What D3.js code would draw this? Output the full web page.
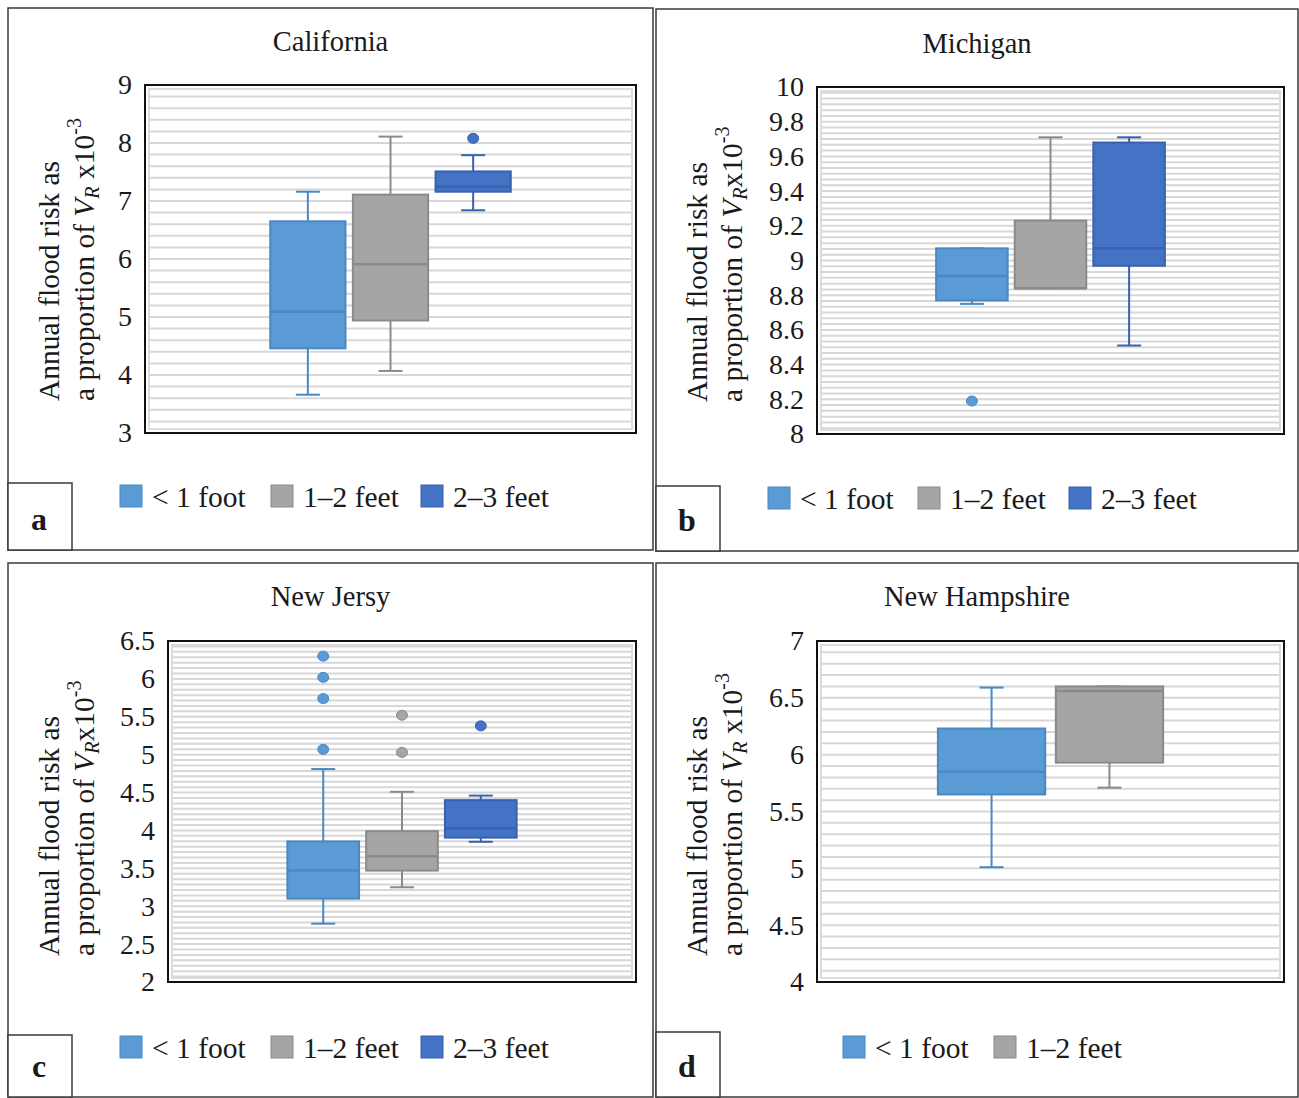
<!DOCTYPE html>
<html>
<head>
<meta charset="utf-8">
<script src="https://cdn.jsdelivr.net/npm/d3@7"></script>
<style>
  body { margin: 0; background: #fff; }
  text { font-family: "Liberation Serif", "Times New Roman", serif; fill: #1a1a1a; }
</style>
</head>
<body>
<svg id="chart"></svg>
<script>
// series shared by all four panels
const seriesNames = ["< 1 foot", "1–2 feet", "2–3 feet"];
const seriesFill = ["#5b9bd5", "#a5a5a5", "#4472c4"];
const seriesStroke = ["#4a88c2", "#8a8a8a", "#3862b0"];

// five-number summaries (x10^-3)
const californiaBoxes = [
  { min: 3.66, q1: 4.46, median: 5.09, q3: 6.65, max: 7.16, outliers: [] },
  { min: 4.07, q1: 4.94, median: 5.91, q3: 7.11, max: 8.11, outliers: [] },
  { min: 6.84, q1: 7.16, median: 7.25, q3: 7.51, max: 7.79, outliers: [8.08] }
];
const michiganBoxes = [
  { min: 8.75, q1: 8.77, median: 8.91, q3: 9.07, max: 9.07, outliers: [8.19] },
  { min: 8.84, q1: 8.84, median: 8.84, q3: 9.23, max: 9.71, outliers: [] },
  { min: 8.51, q1: 8.97, median: 9.07, q3: 9.68, max: 9.71, outliers: [] }
];
const newJerseyBoxes = [
  { min: 2.77, q1: 3.10, median: 3.47, q3: 3.855, max: 4.81, outliers: [5.07, 5.74, 6.02, 6.30] },
  { min: 3.25, q1: 3.47, median: 3.66, q3: 3.99, max: 4.51, outliers: [5.03, 5.52] },
  { min: 3.85, q1: 3.905, median: 4.03, q3: 4.40, max: 4.46, outliers: [5.38] }
];
const newHampshireBoxes = [
  { min: 5.01, q1: 5.65, median: 5.85, q3: 6.23, max: 6.59, outliers: [] },
  { min: 5.71, q1: 5.93, median: 6.56, q3: 6.60, max: 6.60, outliers: [] }
];

// y tick labels
const californiaTicks = [3, 4, 5, 6, 7, 8, 9];
const michiganTicks = [8, 8.2, 8.4, 8.6, 8.8, 9, 9.2, 9.4, 9.6, 9.8, 10];
const newJerseyTicks = [2, 2.5, 3, 3.5, 4, 4.5, 5, 5.5, 6, 6.5];
const newHampshireTicks = [4, 4.5, 5, 5.5, 6, 6.5, 7];

const width = 1299;
const height = 1098;

const svg = d3.select("#chart")
  .attr("width", width)
  .attr("height", height);

const panels = [
  { title: "California", letter: "a", boxes: californiaBoxes, ticks: californiaTicks, gridStep: 0.2, gap: true,
    frame: { x: 8, y: 8, w: 645, h: 542 }, plot: { x: 145, y: 85, w: 491, h: 348 },
    legendX: [120, 271, 421], legendY: 485, titleY: 51, letterBox: { y: 483, h: 67 } },
  { title: "Michigan", letter: "b", boxes: michiganBoxes, ticks: michiganTicks, gridStep: 0.2 / 6, gap: false,
    frame: { x: 656, y: 9, w: 642, h: 542 }, plot: { x: 817, y: 87, w: 467, h: 347 },
    legendX: [768, 918, 1069], legendY: 487, titleY: 53, letterBox: { y: 486, h: 65 } },
  { title: "New Jersy", letter: "c", boxes: newJerseyBoxes, ticks: newJerseyTicks, gridStep: 0.5 / 7, gap: false,
    frame: { x: 8, y: 563, w: 645, h: 534 }, plot: { x: 168, y: 641, w: 468, h: 341 },
    legendX: [120, 271, 421], legendY: 1036, titleY: 606, letterBox: { y: 1035, h: 62 } },
  { title: "New Hampshire", letter: "d", boxes: newHampshireBoxes, ticks: newHampshireTicks, gridStep: 0.1, gap: true,
    frame: { x: 656, y: 563, w: 642, h: 534 }, plot: { x: 817, y: 641, w: 467, h: 341 },
    legendX: [843, 994], legendY: 1036, titleY: 606, letterBox: { y: 1032, h: 65 } }
];

panels.forEach(p => {
  const g = svg.append("g");
  const n = p.boxes.length;
  const names = seriesNames.slice(0, n);

  // outer frame
  g.append("rect")
    .attr("x", p.frame.x).attr("y", p.frame.y)
    .attr("width", p.frame.w).attr("height", p.frame.h)
    .attr("fill", "#fff").attr("stroke", "#3a3a3a").attr("stroke-width", 1.5);

  // title
  g.append("text")
    .attr("x", p.frame.x + p.frame.w / 2)
    .attr("y", p.titleY)
    .attr("text-anchor", "middle")
    .style("font-size", "28.5px")
    .text(p.title);

  const lo = p.ticks[0], hi = p.ticks[p.ticks.length - 1];
  const y = d3.scaleLinear().domain([lo, hi]).range([p.plot.y + p.plot.h, p.plot.y]);

  const cx = p.plot.x + p.plot.w / 2;
  const groupW = p.plot.w * 0.505;
  const x = d3.scaleBand()
    .domain(names)
    .range([cx - groupW / 2, cx + groupW / 2])
    .paddingInner(0.09)
    .paddingOuter(0.045);

  // grid lines
  const gridVals = d3.range(lo + p.gridStep, hi - p.gridStep / 2, p.gridStep);
  g.append("g").selectAll("line")
    .data(gridVals)
    .enter().append("line")
    .attr("x1", p.plot.x + 4).attr("x2", p.plot.x + p.plot.w - 4)
    .attr("y1", d => y(d)).attr("y2", d => y(d))
    .attr("stroke", "#d7d7d7").attr("stroke-width", 2);

  g.append("rect")
    .attr("x", p.plot.x + 4).attr("y", p.plot.y + 4)
    .attr("width", p.plot.w - 8).attr("height", p.plot.h - 8)
    .attr("fill", "none").attr("stroke", "#dcdcdc").attr("stroke-width", 2);

  // boxes
  const cap = 24;
  p.boxes.forEach((b, i) => {
    const name = names[i];
    const bx = x(name), bw = x.bandwidth(), mx = bx + bw / 2;
    const bg = g.append("g");
    const stroke = seriesStroke[i];

    bg.append("line").attr("x1", mx).attr("x2", mx).attr("y1", y(b.max)).attr("y2", y(b.q3))
      .attr("stroke", stroke).attr("stroke-width", 2);
    bg.append("line").attr("x1", mx).attr("x2", mx).attr("y1", y(b.q1)).attr("y2", y(b.min))
      .attr("stroke", stroke).attr("stroke-width", 2);
    [b.max, b.min].forEach(v => {
      bg.append("line").attr("x1", mx - cap / 2).attr("x2", mx + cap / 2).attr("y1", y(v)).attr("y2", y(v))
        .attr("stroke", stroke).attr("stroke-width", 2);
    });

    bg.append("rect")
      .attr("x", bx).attr("y", y(b.q3))
      .attr("width", bw).attr("height", Math.max(1, y(b.q1) - y(b.q3)))
      .attr("fill", seriesFill[i]).attr("stroke", stroke).attr("stroke-width", 2);

    bg.append("line").attr("x1", bx).attr("x2", bx + bw).attr("y1", y(b.median)).attr("y2", y(b.median))
      .attr("stroke", stroke).attr("stroke-width", 2.5);

    bg.selectAll("ellipse")
      .data(b.outliers)
      .enter().append("ellipse")
      .attr("cx", mx).attr("cy", d => y(d))
      .attr("rx", 5.5).attr("ry", 5)
      .attr("fill", seriesFill[i]).attr("stroke", stroke).attr("stroke-width", 1);
  });

  // plot border
  g.append("rect")
    .attr("x", p.plot.x).attr("y", p.plot.y)
    .attr("width", p.plot.w).attr("height", p.plot.h)
    .attr("fill", "none").attr("stroke", "#111").attr("stroke-width", 2);

  // y axis
  const axis = g.append("g")
    .attr("transform", `translate(${p.plot.x},0)`)
    .call(d3.axisLeft(y).tickValues(p.ticks).tickSize(0).tickPadding(13).tickFormat(d => String(d)));
  axis.select(".domain").remove();
  axis.selectAll("text")
    .style("font-family", '"Liberation Serif", "Times New Roman", serif')
    .style("font-size", "28px")
    .attr("fill", "#1a1a1a");

  // y axis title, two lines
  const ty = p.frame.y + 393;
  g.append("text")
    .attr("transform", `translate(${p.frame.x + 51},${ty}) rotate(-90)`)
    .style("font-size", "29.5px")
    .text("Annual  flood risk as");
  const t2 = g.append("text")
    .attr("transform", `translate(${p.frame.x + 86},${ty}) rotate(-90)`)
    .style("font-size", "29.5px");
  t2.append("tspan").text("a proportion of ");
  t2.append("tspan").style("font-style", "italic").text("V");
  t2.append("tspan").style("font-style", "italic").style("font-size", "20px").attr("dy", 5).text("R");
  t2.append("tspan").attr("dy", -5).text(p.gap ? " x10" : "x10");
  t2.append("tspan").style("font-size", "20px").attr("dy", -13).text("-3");

  // legend
  names.forEach((name, i) => {
    g.append("rect")
      .attr("x", p.legendX[i]).attr("y", p.legendY)
      .attr("width", 22).attr("height", 22)
      .attr("fill", seriesFill[i]).attr("stroke", seriesStroke[i]).attr("stroke-width", 1);
    g.append("text")
      .attr("x", p.legendX[i] + 32).attr("y", p.legendY + 22)
      .style("font-size", "29.5px")
      .text(name);
  });

  // panel letter box
  g.append("rect")
    .attr("x", p.frame.x).attr("y", p.letterBox.y)
    .attr("width", 64).attr("height", p.letterBox.h)
    .attr("fill", "#fff").attr("stroke", "#3a3a3a").attr("stroke-width", 1.5);
  g.append("text")
    .attr("x", p.frame.x + 31).attr("y", p.letterBox.y + p.letterBox.h - 20)
    .attr("text-anchor", "middle")
    .style("font-size", "32px").style("font-weight", "bold")
    .text(p.letter);
});
</script>
</body>
</html>
